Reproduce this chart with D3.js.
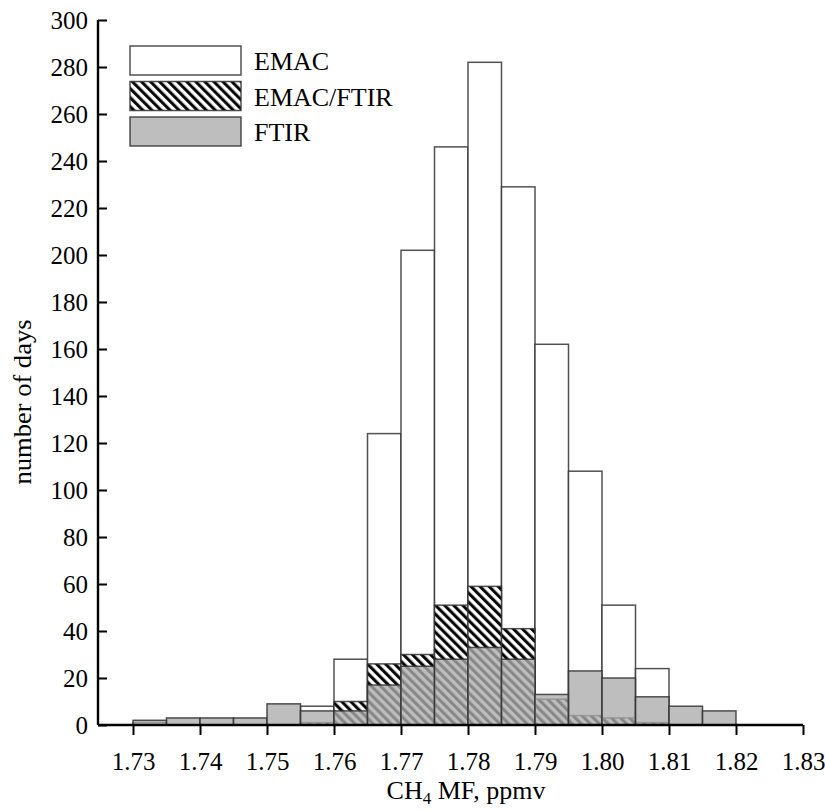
<!DOCTYPE html>
<html>
<head>
<meta charset="utf-8">
<script src="https://cdn.jsdelivr.net/npm/d3@7"></script>
<style>
  html, body { margin: 0; padding: 0; background: #fff; }
  svg { display: block; }
  text { font-family: "Liberation Serif", "DejaVu Serif", serif; fill: #000; }
</style>
</head>
<body>
<svg id="chart" width="825" height="810"></svg>
<script>
// Histogram of daily CH4 mole fraction: bin left edges (ppmv), bin width 0.005
const binStarts = [1.730, 1.735, 1.740, 1.745, 1.750, 1.755, 1.760, 1.765, 1.770,
                   1.775, 1.780, 1.785, 1.790, 1.795, 1.800, 1.805, 1.810, 1.815];
const binWidth = 0.005;

// Number of days per bin
const emacCounts     = [1, 0, 0, 0, 0, 8, 28, 124, 202, 246, 282, 229, 162, 108, 51, 24, 0, 0];
const emacFtirCounts = [0, 0, 0, 0, 0, 1, 10, 26, 30, 51, 59, 41, 11, 4, 3, 1, 0, 0];
const ftirCounts     = [2, 3, 3, 3, 9, 6, 6, 17, 25, 28, 33, 28, 13, 23, 20, 12, 8, 6];

const xTicks = [1.73, 1.74, 1.75, 1.76, 1.77, 1.78, 1.79, 1.80, 1.81, 1.82, 1.83];
const yTicks = [0, 20, 40, 60, 80, 100, 120, 140, 160, 180, 200, 220, 240, 260, 280, 300];

const legendLabels = ["EMAC", "EMAC/FTIR", "FTIR"];

const svg = d3.select("#chart");

const axisLeftX = 98;
const x = d3.scaleLinear().domain([1.73, 1.83]).range([133, 803]);
const y = d3.scaleLinear().domain([0, 300]).range([725, 20]);

// Diagonal hatching for the EMAC/FTIR histogram
const defs = svg.append("defs");
const hatch = defs.append("pattern")
  .attr("id", "hatch")
  .attr("patternUnits", "userSpaceOnUse")
  .attr("width", 6.4).attr("height", 6.4)
  .attr("patternTransform", "rotate(-45)");
hatch.append("rect").attr("width", 6.4).attr("height", 6.4).attr("fill", "#fff");
hatch.append("line")
  .attr("x1", 1.6).attr("y1", 0).attr("x2", 1.6).attr("y2", 6.4)
  .attr("stroke", "#000").attr("stroke-width", 3.0);

const series = [
  { counts: emacCounts, fill: "#fff", opacity: 1 },
  { counts: emacFtirCounts, fill: "url(#hatch)", opacity: 1 },
  { counts: ftirCounts, fill: "rgb(172,172,172)", opacity: 0.78 }
];

const barStroke = "#333";

series.forEach((s, si) => {
  const data = binStarts.map((b, i) => ({ x0: b, x1: b + binWidth, v: s.counts[i] }))
                        .filter(d => d.v > 0);
  svg.append("g").attr("class", "series-" + si)
    .selectAll("rect")
    .data(data)
    .join("rect")
    .attr("x", d => x(d.x0))
    .attr("y", d => y(d.v))
    .attr("width", d => x(d.x1) - x(d.x0))
    .attr("height", d => y(0) - y(d.v))
    .attr("fill", s.fill)
    .attr("fill-opacity", s.opacity)
    .attr("stroke", barStroke)
    .attr("stroke-opacity", 0.85)
    .attr("stroke-width", 1.5);
});

// Axes
const xAxis = d3.axisBottom(x).tickValues(xTicks).tickSize(10).tickPadding(17)
  .tickFormat(d3.format(".2f"));
const gx = svg.append("g").attr("transform", `translate(0,${y(0)})`).call(xAxis);
gx.select(".domain").remove();
gx.append("line")
  .attr("x1", axisLeftX).attr("x2", x(1.83))
  .attr("y1", 0).attr("y2", 0)
  .attr("stroke", "#000").attr("stroke-width", 2.4);
gx.selectAll(".tick line").attr("stroke", "#000").attr("stroke-width", 2);
gx.selectAll(".tick text").attr("font-size", 25).attr("font-family", "Liberation Serif");

const yAxis = d3.axisLeft(y).tickValues(yTicks).tickSize(-9).tickPadding(10);
const gy = svg.append("g").attr("transform", `translate(${axisLeftX},0)`).call(yAxis);
gy.select(".domain").remove();
gy.append("line")
  .attr("x1", 0).attr("x2", 0)
  .attr("y1", y(0)).attr("y2", y(300))
  .attr("stroke", "#000").attr("stroke-width", 2.4);
gy.selectAll(".tick line").attr("stroke", "#000").attr("stroke-width", 2);
gy.selectAll(".tick text").attr("font-size", 25).attr("font-family", "Liberation Serif");

// Axis titles
const xTitle = svg.append("text")
  .attr("x", 466).attr("y", 799)
  .attr("text-anchor", "middle")
  .attr("font-size", 26);
xTitle.append("tspan").text("CH");
xTitle.append("tspan").attr("font-size", 17).attr("dy", 5).text("4");
xTitle.append("tspan").attr("dy", -5).text(" MF, ppmv");

svg.append("text")
  .attr("transform", "translate(31,402) rotate(-90)")
  .attr("text-anchor", "middle")
  .attr("font-size", 26)
  .attr("textLength", 165)
  .attr("lengthAdjust", "spacingAndGlyphs")
  .text("number of days");

// Legend
const legend = svg.append("g").attr("transform", "translate(130,46)");
legendLabels.forEach((label, i) => {
  const s = series[i];
  const row = legend.append("g").attr("transform", `translate(0,${i * 35.5})`);
  row.append("rect")
    .attr("width", 111).attr("height", 29)
    .attr("fill", s.fill)
    .attr("fill-opacity", s.opacity)
    .attr("stroke", barStroke)
    .attr("stroke-opacity", 0.85)
    .attr("stroke-width", 1.5);
  row.append("text")
    .attr("x", 124).attr("y", 24)
    .attr("font-size", 26)
    .text(label);
});
</script>
</body>
</html>
